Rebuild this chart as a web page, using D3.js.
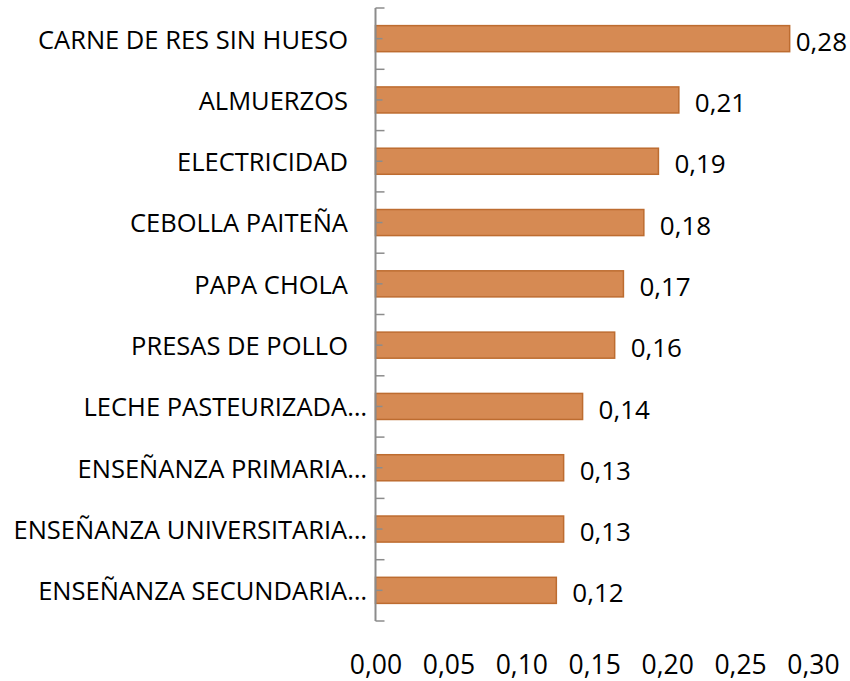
<!DOCTYPE html>
<html>
<head>
<meta charset="utf-8">
<script src="https://cdn.jsdelivr.net/npm/d3@7"></script>
<style>
  body { margin: 0; background: #fff; }
  text { font-family: "Open Sans", sans-serif; fill: #000; }
</style>
</head>
<body>
<div id="chart"></div>
<script>
// Data
var categories = [
	"CARNE DE RES SIN HUESO",
	"ALMUERZOS",
	"ELECTRICIDAD",
	"CEBOLLA PAITEÑA",
	"PAPA CHOLA",
	"PRESAS DE POLLO",
	"LECHE PASTEURIZADA…",
	"ENSEÑANZA PRIMARIA…",
	"ENSEÑANZA UNIVERSITARIA…",
	"ENSEÑANZA SECUNDARIA…"
];
var values = [0.284, 0.208, 0.194, 0.184, 0.170, 0.164, 0.142, 0.129, 0.129, 0.124];
var xTicks = [0, 0.05, 0.10, 0.15, 0.20, 0.25, 0.30];

var width = 850, height = 681;
var fmt = function(v) { return d3.format(".2f")(v).replace(".", ","); };

var data = categories.map(function(c, i) { return { name: c, value: values[i] }; });

// Set the ranges
var x = d3.scaleLinear().domain([0, 0.30]).range([375.5, 813]);
var y = d3.scaleBand().domain(categories).range([8, 621]).paddingInner(0.575).paddingOuter(0.2875);

var svg = d3.select("#chart")
	.append("svg")
	.attr("width", width)
	.attr("height", height);

// Bars
svg.append("g")
	.selectAll("rect")
	.data(data)
	.enter().append("rect")
	.attr("x", x(0))
	.attr("y", function(d) { return y(d.name); })
	.attr("width", function(d) { return x(d.value) - x(0); })
	.attr("height", y.bandwidth())
	.attr("fill", "#d68a53")
	.attr("stroke", "#bd6c30")
	.attr("stroke-width", 1.5);

// Y axis: line plus ticks at category boundaries and centres
var yAxis = svg.append("g").attr("class", "y axis");
var step = y.step();
var bounds = d3.range(categories.length + 1).map(function(i) { return 8 + i * step; });

yAxis.selectAll("line.major")
	.data(bounds)
	.enter().append("line")
	.attr("x1", x(0)).attr("x2", x(0) + 9)
	.attr("y1", function(d) { return d; }).attr("y2", function(d) { return d; })
	.attr("stroke", "#8c8c8c").attr("stroke-width", 1.5);

yAxis.selectAll("line.minor")
	.data(categories)
	.enter().append("line")
	.attr("x1", x(0)).attr("x2", x(0) + 7)
	.attr("y1", function(d) { return y(d) + y.bandwidth() / 2; })
	.attr("y2", function(d) { return y(d) + y.bandwidth() / 2; })
	.attr("stroke", "#8c8c8c").attr("stroke-width", 1.5);

yAxis.append("line")
	.attr("x1", x(0)).attr("x2", x(0))
	.attr("y1", 8).attr("y2", 621)
	.attr("stroke", "#8c8c8c").attr("stroke-width", 2);

// Category labels
svg.append("g")
	.selectAll("text")
	.data(categories)
	.enter().append("text")
	.attr("x", function(d) { return /…$/.test(d) ? 367 : 348; })
	.attr("y", function(d) { return y(d) + y.bandwidth() / 2 + 1; })
	.attr("dy", "0.35em")
	.attr("text-anchor", "end")
	.attr("font-size", 25.5)
	.text(function(d) { return d; });

// Value labels
svg.append("g")
	.selectAll("text")
	.data(data)
	.enter().append("text")
	.attr("x", function(d) { return x(d.value) + 16; })
	.attr("y", function(d) { return y(d.name) + y.bandwidth() / 2 + 3; })
	.attr("dy", "0.35em")
	.attr("font-size", 26)
	.text(function(d) { return fmt(d.value); })
	.each(function() {
		var w = this.getComputedTextLength();
		var cx = +d3.select(this).attr("x");
		if (cx + w > width - 3) d3.select(this).attr("x", width - 3 - w);
	});

// X axis labels (no line, no ticks)
var xAxis = d3.axisBottom(x).tickValues(xTicks).tickFormat(fmt).tickSize(0).tickPadding(0);
svg.append("g")
	.attr("class", "x axis")
	.attr("transform", "translate(0, 674)")
	.call(xAxis)
	.call(function(g) { g.select(".domain").remove(); })
	.selectAll("text")
	.attr("y", 0)
	.attr("dy", "0")
	.attr("font-size", 26.5)
	.attr("font-family", "Open Sans, sans-serif")
	.attr("fill", "#000");
</script>
</body>
</html>
